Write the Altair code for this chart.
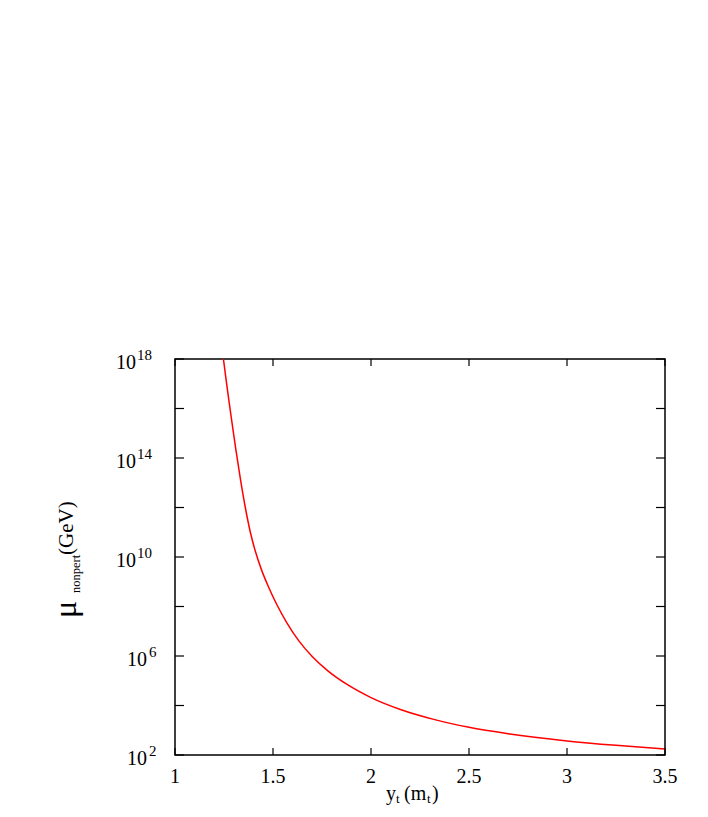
import altair as alt
import pandas as pd

# Curve (x = y_t in units of m_t, y = log10 of mu_nonpert / GeV)
yt_vals = [1.247, 1.26, 1.275, 1.29, 1.31, 1.335, 1.36, 1.385, 1.41, 1.44, 1.475,
           1.52, 1.57, 1.63, 1.70, 1.78, 1.88, 2.0, 2.15, 2.32, 2.5, 2.7,
           3.0, 3.25, 3.5]
log_mu_vals = [18.0, 17.21, 16.32, 15.47, 14.37, 13.09, 11.95, 10.98, 10.23, 9.51, 8.83,
               8.07, 7.35, 6.63, 5.98, 5.40, 4.84, 4.32, 3.84, 3.44, 3.12, 2.86,
               2.57, 2.39, 2.24]

x_ticks = [1, 1.5, 2, 2.5, 3, 3.5]
y_tick_exps = [2, 4, 6, 8, 10, 12, 14, 16, 18]
y_label_exps = [2, 6, 10, 14, 18]

FONT = "Liberation Serif"
W, H = 490, 396

curve = pd.DataFrame({"x": yt_vals, "mu": [10.0 ** e for e in log_mu_vals]})
yt_df = pd.DataFrame({"v": [10.0 ** e for e in y_tick_exps]})
xt_df = pd.DataFrame({"x": x_ticks})
yl_df = pd.DataFrame({"v": [10.0 ** e for e in y_label_exps], "e": y_label_exps})

xscale = alt.Scale(domain=[1, 3.5], nice=False, zero=False)
yscale = alt.Scale(type="log", domain=[1e2, 1e18], nice=False)

line = alt.Chart(curve).mark_line(color="#ff0000", strokeWidth=1.5, clip=True,
                                  interpolate="monotone").encode(
    x=alt.X("x:Q", scale=xscale, axis=None),
    y=alt.Y("mu:Q", scale=yscale, axis=None),
)

tick_color = "black"
left_ticks = alt.Chart(yt_df).mark_rule(color=tick_color, strokeWidth=1.2).encode(
    y=alt.Y("v:Q", scale=yscale, axis=None), x=alt.value(0), x2=alt.value(9))
right_ticks = alt.Chart(yt_df).mark_rule(color=tick_color, strokeWidth=1.2).encode(
    y=alt.Y("v:Q", scale=yscale, axis=None), x=alt.value(W - 9), x2=alt.value(W))
bottom_ticks = alt.Chart(xt_df).mark_rule(color=tick_color, strokeWidth=1.2).encode(
    x=alt.X("x:Q", scale=xscale, axis=None), y=alt.value(H), y2=alt.value(H - 7))
top_ticks = alt.Chart(xt_df).mark_rule(color=tick_color, strokeWidth=1.2).encode(
    x=alt.X("x:Q", scale=xscale, axis=None), y=alt.value(0), y2=alt.value(7))

x_labels = alt.Chart(xt_df).mark_text(
    font=FONT, fontSize=20, align="center", baseline="alphabetic", color="black"
).encode(x=alt.X("x:Q", scale=xscale, axis=None), y=alt.value(H + 28),
         text=alt.Text("x:Q", format="~g"))

base_1 = alt.Chart(yl_df).transform_filter("datum.e < 10").mark_text(
    text="10", font=FONT, fontSize=20, align="right", baseline="alphabetic", dy=10,
    color="black").encode(y=alt.Y("v:Q", scale=yscale, axis=None), x=alt.value(-28))
base_2 = alt.Chart(yl_df).transform_filter("datum.e >= 10").mark_text(
    text="10", font=FONT, fontSize=20, align="right", baseline="alphabetic", dy=10,
    color="black").encode(y=alt.Y("v:Q", scale=yscale, axis=None), x=alt.value(-39))
exp_1 = alt.Chart(yl_df).transform_filter("datum.e < 10").mark_text(
    font=FONT, fontSize=15, align="left", baseline="alphabetic", dy=1,
    color="black").encode(y=alt.Y("v:Q", scale=yscale, axis=None), x=alt.value(-26),
                          text="e:N")
exp_2 = alt.Chart(yl_df).transform_filter("datum.e >= 10").mark_text(
    font=FONT, fontSize=15, align="left", baseline="alphabetic", dy=1,
    color="black").encode(y=alt.Y("v:Q", scale=yscale, axis=None), x=alt.value(-38),
                          text="e:N")

one = pd.DataFrame({"a": [0]})


def label(txt, size, x, y, angle=0):
    kw = dict(text=txt, font=FONT, fontSize=size, align="left",
              baseline="alphabetic", color="black")
    if angle:
        kw["angle"] = angle
    return alt.Chart(one).mark_text(**kw).encode(x=alt.value(x), y=alt.value(y))


# x-axis title: y_t (m_t)
xt_main_y = 441
xt_sub_y = 444
x_title = [
    label("y", 20, 211, xt_main_y),
    label("t", 13, 221, xt_sub_y),
    label("(m", 20, 229, xt_main_y),
    label("t", 13, 252, xt_sub_y),
    label(")", 20, 257, xt_main_y),
]

# y-axis title: mu_nonpert (GeV), rotated
y_title = [
    label("μ", 32, -99, 259, angle=270),
    label("nonpert", 12.5, -95, 234, angle=270),
    label("(GeV)", 21, -102, 196, angle=270),
]

chart = alt.layer(
    line, left_ticks, right_ticks, bottom_ticks, top_ticks, x_labels,
    base_1, base_2, exp_1, exp_2, *x_title, *y_title
).properties(
    width=W, height=H,
    autosize=alt.AutoSizeParams(type="none"),
    padding={"left": 167, "top": 351, "right": 35, "bottom": 50},
    background="white",
).configure_view(stroke="black", strokeWidth=1.5)

chart.save("out.html", embed_options={"renderer": "svg", "actions": False})
